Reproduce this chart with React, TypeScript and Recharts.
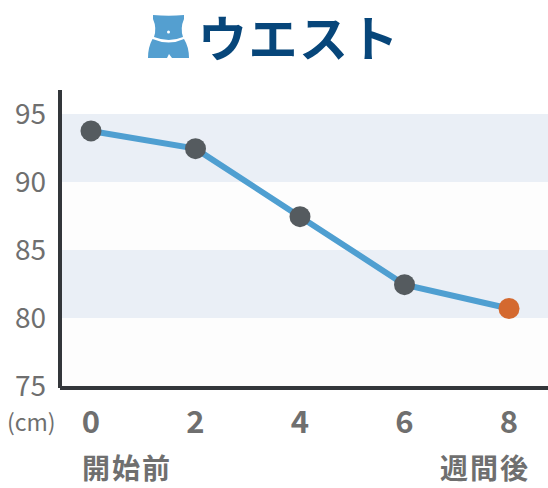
import { LineChart, Line, XAxis, YAxis, ReferenceArea } from 'recharts';

const weeks = [0, 2, 4, 6, 8];
const waist = [93.75, 92.45, 87.45, 82.45, 80.7];
const yTicks = [75, 80, 85, 90, 95];
const shadedBands = [[90, 95], [80, 85]];
const plainBands = [[85, 90], [75, 80]];
const dotColors = ['#555b5f', '#555b5f', '#555b5f', '#555b5f', '#d4692f'];

const data = weeks.map((week, i) => ({ week, waist: waist[i] }));

const FONT = '"Noto Sans CJK JP", "Noto Sans", sans-serif';
const GREY = '#6f6f6f';

const WaistIcon = () => (
  <svg width="44" height="46" viewBox="0 0 44 46" style={{ position: 'absolute', left: 147, top: 14 }}>
    <path
      d="M6 1 Q22 2.5 37 1 L37 5 Q33 14 36 23 Q22 29 7 23 Q10 14 6 5 Z"
      fill="#549fd0"
    />
    <path
      d="M5.5 25 Q22 32 37 25 Q42 33 42 44 L25 44 L22 40 L20 44 L1 44 Q1 33 5.5 25 Z"
      fill="#549fd0"
    />
    <circle cx="21.5" cy="18" r="1.5" fill="#fff" />
  </svg>
);

const WaistDot = (props: any) => {
  const { cx, cy, index } = props;
  return <circle key={index} cx={cx} cy={cy} r={10.5} fill={dotColors[index]} />;
};

const textAt = (left: number, top: number, size: number, weight: number, spacing = 0) => ({
  position: 'absolute' as const,
  left,
  top,
  fontSize: size,
  fontWeight: weight,
  letterSpacing: spacing,
  lineHeight: 1,
  color: GREY,
  fontFamily: FONT,
  whiteSpace: 'nowrap' as const,
});

export default function App() {
  return (
    <div style={{ position: 'absolute', left: 0, top: 0, width: 548, height: 488, background: '#fff', overflow: 'hidden' }}>
      <WaistIcon />
      <div
        style={{
          ...textAt(198, 11, 49, 700, 1.5),
          color: '#07467a',
        }}
      >
        ウエスト
      </div>
      <LineChart
        width={548}
        height={488}
        data={data}
        margin={{ top: 90, right: 0, bottom: 0, left: 0 }}
        style={{ position: 'absolute', left: 0, top: 0 }}
      >
        {shadedBands.map(([y1, y2]) => (
          <ReferenceArea key={y1} y1={y1} y2={y2} fill="#eaeff6" fillOpacity={1} stroke="none" />
        ))}
        {plainBands.map(([y1, y2]) => (
          <ReferenceArea key={y1} y1={y1} y2={y2} fill="#fdfdfd" fillOpacity={1} stroke="none" />
        ))}
        <XAxis
          dataKey="week"
          type="number"
          domain={[-0.593, 8.746]}
          ticks={weeks}
          allowDataOverflow
          height={100}
          tickLine={false}
          axisLine={{ stroke: '#33363a', strokeWidth: 4 }}
          tickMargin={17}
          tick={{ fill: GREY, fontSize: 31, fontWeight: 700, fontFamily: FONT }}
        />
        <YAxis
          type="number"
          domain={[74.853, 96.76]}
          ticks={yTicks}
          allowDataOverflow
          width={60}
          tickLine={false}
          axisLine={{ stroke: '#33363a', strokeWidth: 4 }}
          tickMargin={8}
          tick={{ fill: GREY, fontSize: 28, fontWeight: 400, fontFamily: FONT }}
        />
        <Line
          dataKey="waist"
          stroke="#4f9fd1"
          strokeWidth={6}
          dot={WaistDot}
          activeDot={false}
          isAnimationActive={false}
        />
      </LineChart>
      <div style={textAt(7, 410, 23, 400)}>(cm)</div>
      <div style={textAt(82, 453, 28, 700, 2)}>開始前</div>
      <div style={textAt(440, 453, 28, 700, 2)}>週間後</div>
    </div>
  );
}
